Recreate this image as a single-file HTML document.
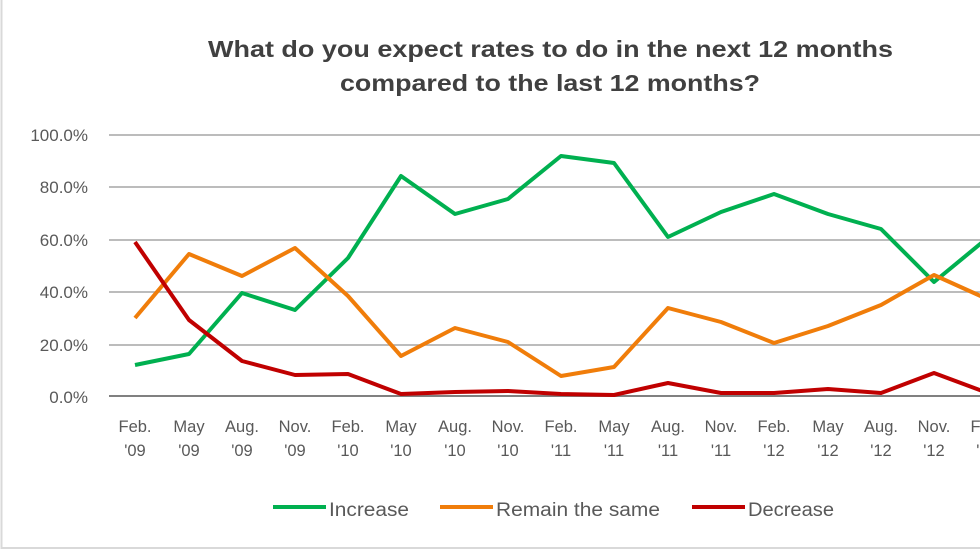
<!DOCTYPE html><html><head><style>body{margin:0;background:#fff}svg{display:block}text{font-family:"Liberation Sans",sans-serif;fill:#595959}</style></head><body>
<svg width="980" height="552" xmlns="http://www.w3.org/2000/svg">
<rect x="1.5" y="-2" width="990" height="550" fill="#fff" stroke="#d9d9d9" stroke-width="2"/>
<text x="208" y="57" font-size="23" font-weight="bold" textLength="685" lengthAdjust="spacingAndGlyphs" style="fill:#404040">What do you expect rates to do in the next 12 months</text>
<text x="340" y="91" font-size="23" font-weight="bold" textLength="420" lengthAdjust="spacingAndGlyphs" style="fill:#404040">compared to the last 12 months?</text>
<g stroke="#a6a6a6" stroke-width="1.5">
<line x1="109" y1="135" x2="980" y2="135"/><line x1="109" y1="187" x2="980" y2="187"/><line x1="109" y1="240" x2="980" y2="240"/><line x1="109" y1="292" x2="980" y2="292"/><line x1="109" y1="345" x2="980" y2="345"/></g>
<line x1="109" y1="396" x2="980" y2="396" stroke="#808080" stroke-width="2"/>
<g font-size="17" text-anchor="end"><text x="88" y="141">100.0%</text><text x="88" y="193">80.0%</text><text x="88" y="246">60.0%</text><text x="88" y="298">40.0%</text><text x="88" y="351">20.0%</text><text x="88" y="403">0.0%</text></g>
<g font-size="16.5" text-anchor="middle">
<text x="135" y="432">Feb.</text><text x="135" y="456">'09</text>
<text x="189" y="432">May</text><text x="189" y="456">'09</text>
<text x="242" y="432">Aug.</text><text x="242" y="456">'09</text>
<text x="295" y="432">Nov.</text><text x="295" y="456">'09</text>
<text x="348" y="432">Feb.</text><text x="348" y="456">'10</text>
<text x="401" y="432">May</text><text x="401" y="456">'10</text>
<text x="455" y="432">Aug.</text><text x="455" y="456">'10</text>
<text x="508" y="432">Nov.</text><text x="508" y="456">'10</text>
<text x="561" y="432">Feb.</text><text x="561" y="456">'11</text>
<text x="614" y="432">May</text><text x="614" y="456">'11</text>
<text x="668" y="432">Aug.</text><text x="668" y="456">'11</text>
<text x="721" y="432">Nov.</text><text x="721" y="456">'11</text>
<text x="774" y="432">Feb.</text><text x="774" y="456">'12</text>
<text x="828" y="432">May</text><text x="828" y="456">'12</text>
<text x="881" y="432">Aug.</text><text x="881" y="456">'12</text>
<text x="934" y="432">Nov.</text><text x="934" y="456">'12</text>
<text x="987" y="432">Feb.</text><text x="987" y="456">'13</text></g>
<g fill="none" stroke-width="4" stroke-linejoin="round">
<polyline stroke="#00b050" points="135,365 189,354 242,293 295,310 348,258 401,176 455,214 508,199 561,156 614,163 668,237 721,212 774,194 828,214 881,229 934,282 985,240"/>
<polyline stroke="#f07d0a" points="135,318 189,254 242,276 295,248 348,296 401,356 455,328 508,342 561,376 614,367 668,308 721,322 774,343 828,326 881,305 934,275 985,298"/>
<polyline stroke="#c00000" points="135,242 189,320 242,361 295,375 348,374 401,394 455,392 508,391 561,394 614,395 668,383 721,393 774,393 828,389 881,393 934,373 985,392"/>
</g>
<g stroke-width="4"><line x1="273" y1="507" x2="326" y2="507" stroke="#00b050"/><line x1="440" y1="507" x2="493" y2="507" stroke="#f07d0a"/><line x1="692" y1="507" x2="745" y2="507" stroke="#c00000"/></g>
<g font-size="19"><text x="329" y="516" textLength="80" lengthAdjust="spacingAndGlyphs">Increase</text><text x="496" y="516" textLength="164" lengthAdjust="spacingAndGlyphs">Remain the same</text><text x="748" y="516" textLength="86" lengthAdjust="spacingAndGlyphs">Decrease</text></g>
</svg></body></html>
